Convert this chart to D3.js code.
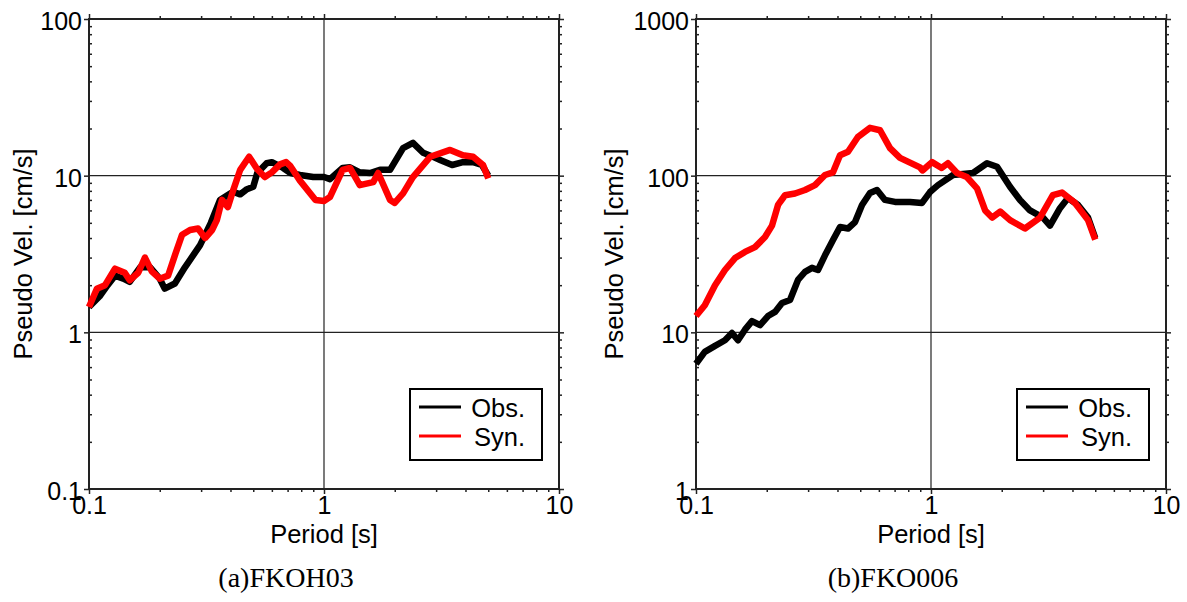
<!DOCTYPE html>
<html>
<head>
<meta charset="utf-8">
<script src="https://cdn.jsdelivr.net/npm/d3@7"></script>
<style>
  body { margin: 0; background: #fff; }
  text { font-family: "Liberation Sans", Arial, sans-serif; }
</style>
</head>
<body>
<svg id="chart" width="1187" height="602"></svg>
<script>
// ---- data (period [s], pseudo velocity [cm/s]) ----
var captions = ["(a)FKOH03", "(b)FKO006"];
var xTickValues = [0.1, 1, 10];
var yTickValuesA = [0.1, 1, 10, 100];
var yTickValuesB = [1, 10, 100, 1000];
var legendLabels = ["Obs.", "Syn."];

var periodObsA = [0.1, 0.111, 0.12, 0.129, 0.14, 0.149, 0.165, 0.182, 0.2, 0.21, 0.232, 0.256, 0.297, 0.33,
  0.361, 0.41, 0.44, 0.47, 0.5, 0.52, 0.57, 0.6, 0.67, 0.72, 0.79, 0.9, 1.0, 1.06, 1.2, 1.29, 1.42, 1.57,
  1.73, 1.91, 2.17, 2.39, 2.64, 2.91, 3.12, 3.51, 3.9, 4.31, 4.7, 5.0];
var obsA = [1.45, 1.7, 2.0, 2.3, 2.2, 2.1, 2.6, 2.6, 2.2, 1.9, 2.05, 2.6, 3.6, 5.0,
  7.0, 7.9, 7.6, 8.2, 8.5, 10.4, 12.0, 12.2, 11.2, 10.4, 10.1, 9.8, 9.8, 9.5, 11.2, 11.3, 10.5, 10.4,
  10.9, 10.9, 15.0, 16.2, 14.0, 13.2, 12.6, 11.7, 12.2, 12.2, 11.7, 10.0];

var periodSynA = [0.1, 0.108, 0.117, 0.129, 0.142, 0.149, 0.162, 0.173, 0.185, 0.2, 0.217, 0.232, 0.249,
  0.269, 0.291, 0.312, 0.334, 0.35, 0.368, 0.39, 0.41, 0.44, 0.48, 0.52, 0.56, 0.6, 0.65, 0.69, 0.72,
  0.79, 0.92, 1.0, 1.06, 1.2, 1.29, 1.42, 1.62, 1.7, 1.91, 2.0, 2.17, 2.39, 2.83, 3.44, 3.9, 4.31, 4.75, 5.0];
var synA = [1.45, 1.9, 2.0, 2.55, 2.4, 2.15, 2.4, 3.0, 2.45, 2.2, 2.3, 3.1, 4.2,
  4.5, 4.6, 4.0, 4.5, 5.2, 7.0, 6.3, 8.0, 10.9, 13.2, 11.0, 9.8, 10.5, 11.8, 12.2, 11.5,
  9.3, 7.0, 6.9, 7.3, 10.9, 11.2, 8.7, 9.1, 10.4, 7.0, 6.7, 7.7, 9.8, 13.2, 14.6, 13.5, 13.2, 11.7, 9.6];

var periodObsB = [0.1, 0.109, 0.1205, 0.1328, 0.1423, 0.1509, 0.1616, 0.1731, 0.1873, 0.2025, 0.2169,
  0.2323, 0.2512, 0.2716, 0.291, 0.3116, 0.3304, 0.3539, 0.3828, 0.4101, 0.4435, 0.475, 0.5087, 0.55,
  0.589, 0.637, 0.703, 0.814, 0.916, 0.99, 1.071, 1.241, 1.509, 1.731, 1.91, 2.169, 2.392, 2.638, 2.997,
  3.209, 3.539, 3.828, 4.222, 4.658, 5.0];
var obsB = [6.3, 7.5, 8.2, 8.9, 9.9, 8.9, 10.4, 11.8, 11.1, 12.7, 13.5,
  15.4, 16.1, 21.6, 24.3, 25.8, 25, 31, 38.8, 47, 46, 50.6, 65, 77.5,
  81, 70, 68, 68, 67, 78.6, 87, 101, 104, 120, 114, 85, 70, 60, 54,
  48, 62, 72, 65, 54, 40];

var periodSynB = [0.1, 0.109, 0.1205, 0.1328, 0.1466, 0.1616, 0.1783, 0.1966, 0.2106, 0.2234, 0.2392,
  0.2638, 0.291, 0.3209, 0.3539, 0.3828, 0.4101, 0.4435, 0.4892, 0.55, 0.607, 0.6692, 0.738, 0.898,
  0.92, 1.01, 1.11, 1.18, 1.29, 1.42, 1.57, 1.7, 1.82, 1.97, 2.17, 2.51, 2.91, 3.3, 3.61, 4.1, 4.66, 5.0];
var synB = [12.7, 14.9, 20, 25, 29.8, 32.6, 35, 40.6, 48, 65, 75,
  77, 81, 87, 101, 105, 135, 142, 177, 202, 195, 150, 130, 113,
  108, 122, 112, 120, 104, 98, 83, 60, 54, 59, 52, 46, 54, 75, 78, 67, 52, 39];

var plotTop = 19, plotSize = 470;
var svg = d3.select("#chart");
svg.append("rect").attr("width", 1187).attr("height", 602).attr("fill", "white");

function minorTicks(dom) {
  var out = [];
  for (var e = Math.round(Math.log10(dom[0])); e < Math.round(Math.log10(dom[1])); e++) {
    for (var k = 2; k <= 9; k++) out.push(+(k * Math.pow(10, e)).toPrecision(3));
  }
  return out;
}

function styleAxis(sel) {
  sel.select(".domain").remove();
  sel.attr("font-family", "Liberation Sans, Arial, sans-serif").attr("font-size", 25);
  sel.selectAll("line").attr("stroke", "#222").attr("stroke-width", 1.5);
  sel.selectAll("text").attr("fill", "#000");
}

function drawPanel(p) {
  var g = svg.append("g").attr("transform", "translate(" + p.left + "," + plotTop + ")");
  var x = d3.scaleLog().domain([0.1, 10]).range([0, plotSize]);
  var y = d3.scaleLog().domain(p.yDomain).range([plotSize, 0]);
  var fmt = d3.format("~g");

  // grid lines at interior decades
  g.selectAll(".gx").data(xTickValues.slice(1, -1)).enter().append("line")
    .attr("x1", x).attr("x2", x).attr("y1", 0).attr("y2", plotSize)
    .attr("stroke", "#222").attr("stroke-width", 1.2);
  g.selectAll(".gy").data(p.yTicks.slice(1, -1)).enter().append("line")
    .attr("y1", y).attr("y2", y).attr("x1", 0).attr("x2", plotSize)
    .attr("stroke", "#222").attr("stroke-width", 1.2);

  // minor ticks on four sides
  var xm = minorTicks(x.domain()), ym = minorTicks(y.domain());
  g.append("g").attr("transform", "translate(0," + plotSize + ")")
    .call(d3.axisBottom(x).tickValues(xm).tickSize(3).tickFormat("")).call(styleAxis);
  g.append("g").call(d3.axisTop(x).tickValues(xm).tickSize(3).tickFormat("")).call(styleAxis);
  g.append("g").attr("transform", "translate(" + plotSize + ",0)")
    .call(d3.axisRight(y).tickValues(ym).tickSize(3).tickFormat("")).call(styleAxis);
  g.append("g").call(d3.axisLeft(y).tickValues(ym).tickSize(-3).tickFormat("")).call(styleAxis);

  // major ticks + labels
  g.append("g").attr("transform", "translate(0," + plotSize + ")")
    .call(d3.axisBottom(x).tickValues(xTickValues).tickSize(5).tickPadding(2).tickFormat(fmt))
    .call(styleAxis);
  g.append("g")
    .call(d3.axisLeft(y).tickValues(p.yTicks).tickSize(5).tickPadding(2).tickFormat(fmt))
    .call(styleAxis)
    .selectAll("text").attr("dy", "0.42em");
  g.append("g").call(d3.axisTop(x).tickValues(xTickValues).tickSize(5).tickFormat("")).call(styleAxis);
  g.append("g").attr("transform", "translate(" + plotSize + ",0)")
    .call(d3.axisRight(y).tickValues(p.yTicks).tickSize(5).tickFormat("")).call(styleAxis);

  // frame
  g.append("rect").attr("width", plotSize).attr("height", plotSize)
    .attr("fill", "none").attr("stroke", "#222").attr("stroke-width", 2);

  // curves
  var line = d3.line().x(function(d) { return x(d[0]); }).y(function(d) { return y(d[1]); });
  g.append("path").datum(d3.zip(p.obsT, p.obsV)).attr("d", line)
    .attr("fill", "none").attr("stroke", "#000").attr("stroke-width", 6.5)
    .attr("stroke-linejoin", "round");
  g.append("path").datum(d3.zip(p.synT, p.synV)).attr("d", line)
    .attr("fill", "none").attr("stroke", "#ff0000").attr("stroke-width", 6.5)
    .attr("stroke-linejoin", "round");

  // legend
  var lg = g.append("g").attr("transform", "translate(321,370)");
  lg.append("rect").attr("width", 132).attr("height", 71)
    .attr("fill", "white").attr("stroke", "#000").attr("stroke-width", 2);
  var colors = ["#000", "#ff0000"];
  legendLabels.forEach(function(lab, i) {
    lg.append("line").attr("x1", 9).attr("x2", 51).attr("y1", 18 + i * 29).attr("y2", 18 + i * 29)
      .attr("stroke", colors[i]).attr("stroke-width", 3);
    lg.append("text").attr("x", 115).attr("y", 28 + i * 29).attr("text-anchor", "end")
      .attr("font-size", 25.5).text(lab);
  });

  // axis titles
  g.append("text").attr("x", plotSize / 2).attr("y", 543 - plotTop).attr("text-anchor", "middle")
    .attr("font-size", 25.5).text("Period [s]");
  g.append("text").attr("transform", "translate(" + p.yTitleX + "," + plotSize / 2 + ") rotate(-90)")
    .attr("text-anchor", "middle").attr("font-size", 25.5).text("Pseudo Vel. [cm/s]");

  svg.append("text").attr("x", p.captionX).attr("y", 587).attr("text-anchor", "middle")
    .style("font-family", "'Liberation Serif', 'Times New Roman', serif").attr("font-size", 28)
    .text(p.caption);
}

drawPanel({ left: 89, yDomain: [0.1, 100], yTicks: yTickValuesA, obsT: periodObsA, obsV: obsA,
  synT: periodSynA, synV: synA, caption: captions[0], captionX: 286, yTitleX: 32 - 89 });
drawPanel({ left: 696, yDomain: [1, 1000], yTicks: yTickValuesB, obsT: periodObsB, obsV: obsB,
  synT: periodSynB, synV: synB, caption: captions[1], captionX: 893, yTitleX: 623 - 696 });
</script>
</body>
</html>
